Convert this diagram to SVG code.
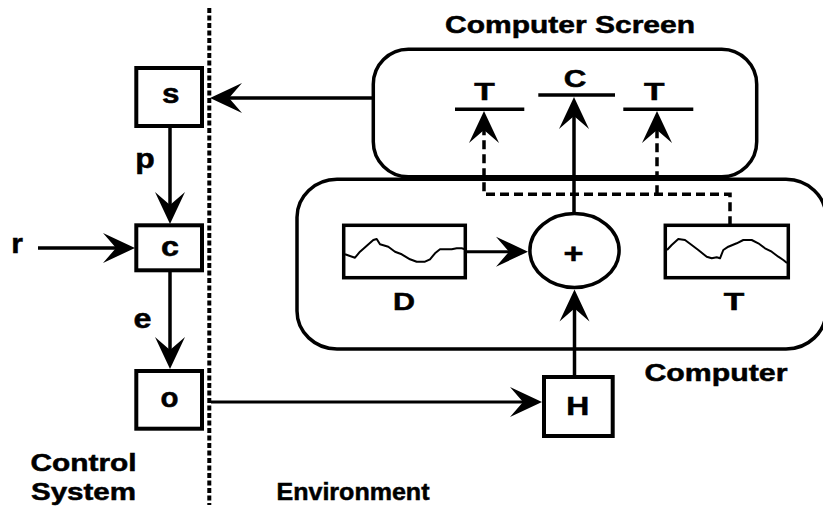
<svg xmlns="http://www.w3.org/2000/svg" width="823" height="508" viewBox="0 0 823 508">
<defs>
<style>
text{font-family:"Liberation Sans",Arial,sans-serif;font-weight:bold;fill:#000;stroke:#000;stroke-width:0.5;}
.lbl{font-size:24px;}
.big{font-size:23px;}
.low{font-size:27px;}
.box{fill:#fff;stroke:#000;stroke-width:4;}
.frame{fill:none;stroke:#000;stroke-width:3.5;}
.bar{stroke:#000;stroke-width:3.5;fill:none;}
.wire{fill:none;stroke:#000;stroke-width:3.5;marker-end:url(#ah);}
.thin{stroke-width:3;}
.dash{fill:none;stroke:#000;stroke-width:3.5;stroke-dasharray:9 5;marker-end:url(#ah);}
.sep{fill:none;stroke:#000;stroke-width:4;stroke-dasharray:5 2.5;}
.wave{fill:none;stroke:#000;stroke-width:2;stroke-linejoin:round;}
</style>
<marker id="ah" markerUnits="userSpaceOnUse" viewBox="-34 -17 35 34" refX="-16" refY="0" markerWidth="35" markerHeight="34" orient="auto">
<path d="M0,0 L-32,-15 L-19,0 L-32,15 Z" fill="#000"/>
</marker>
</defs>
<rect width="823" height="508" fill="#fff"/>

<line class="sep" x1="209.3" y1="8" x2="209.3" y2="505"/>

<g id="computer">
<rect class="frame" x="297" y="179.3" width="529" height="169.7" rx="40" ry="38"/>
<text class="lbl" x="644.5" y="381" textLength="143" lengthAdjust="spacingAndGlyphs">Computer</text>
</g>

<g id="screen">
<rect class="frame" x="373.3" y="49.3" width="383.4" height="127.4" rx="35" ry="35"/>
<text class="lbl" x="445" y="33" textLength="250" lengthAdjust="spacingAndGlyphs">Computer Screen</text>
<line class="bar" x1="455" y1="109.3" x2="524.3" y2="109.3"/>
<line class="bar" x1="538.3" y1="95" x2="615" y2="95"/>
<line class="bar" x1="623.3" y1="109.3" x2="693.3" y2="109.3"/>
<text class="lbl" x="484.5" y="100" text-anchor="middle" textLength="20.5" lengthAdjust="spacingAndGlyphs">T</text>
<text class="lbl" x="575" y="86.7" text-anchor="middle" textLength="22.6" lengthAdjust="spacingAndGlyphs">C</text>
<text class="lbl" x="654.2" y="100" text-anchor="middle" textLength="20.5" lengthAdjust="spacingAndGlyphs">T</text>
</g>

<g id="s">
<rect class="box" x="136.3" y="68" width="65.7" height="58"/>
<text class="low" x="170.8" y="103.3" text-anchor="middle" textLength="17.5" lengthAdjust="spacingAndGlyphs">s</text>
</g>
<g id="c">
<rect class="box" x="136.3" y="225.3" width="65.7" height="45"/>
<text class="low" x="170" y="256" text-anchor="middle" textLength="18" lengthAdjust="spacingAndGlyphs">c</text>
</g>
<g id="o">
<rect class="box" x="136.3" y="371" width="65.7" height="57.7"/>
<text class="low" x="169.5" y="407.3" text-anchor="middle" textLength="18" lengthAdjust="spacingAndGlyphs">o</text>
</g>
<g id="H">
<rect class="box" x="544" y="377" width="68.7" height="59"/>
<text class="lbl" x="577.7" y="415" text-anchor="middle" style="font-size:25px" textLength="23" lengthAdjust="spacingAndGlyphs">H</text>
</g>

<g id="sum">
<ellipse class="frame" cx="574.5" cy="250.5" rx="44.6" ry="37"/>
<text x="573.5" y="263.3" text-anchor="middle" style="font-size:28px" textLength="20" lengthAdjust="spacingAndGlyphs">+</text>
</g>

<g id="D">
<rect class="box" style="stroke-width:3.5" x="343.7" y="225.3" width="121.6" height="52.4"/>
<polyline class="wave" points="345,254.3 355,257.7 360,251.7 373.3,240 376.7,239 380,244.3 388.3,246.7 395,251.7 401.7,254.3 410,259.3 416.7,261.7 425,261.7 430,259.3 435,253.3 440,249.3 446.7,249.3 451.7,249.3 456.7,248.3 461.7,248.3 465,249.3"/>
<text class="lbl" x="404" y="310" text-anchor="middle" textLength="22" lengthAdjust="spacingAndGlyphs">D</text>
</g>

<g id="T">
<rect class="box" style="stroke-width:3.5" x="665.3" y="225.3" width="123" height="52.4"/>
<polyline class="wave" points="667,250 671.7,245 678.3,239 685,240 691.7,245 698.3,250 706.7,256.7 711.7,258.3 716.7,257.3 720,258.3 723.3,250 728.3,246.7 736.7,243.3 743.3,240 751.7,240 758.3,243.3 765,248.3 771.7,251.7 778.3,256.7 783.3,260 787,263"/>
<text class="lbl" x="733.9" y="310" text-anchor="middle" textLength="20.5" lengthAdjust="spacingAndGlyphs">T</text>
</g>

<g id="connectors">
<path class="wire" d="M373.3,98 H226"/>
<path class="wire" d="M170,127 V208"/>
<path class="wire" d="M38,248 H119"/>
<path class="wire" d="M170,272 V353"/>
<path class="wire thin" d="M211,402 H526"/>
<path class="wire" d="M574.5,377 V305.5"/>
<path class="wire thin" d="M466,251.7 H512"/>
<path class="wire" d="M574,213.5 V113"/>
<path class="dash" d="M730,225.3 V194.3 H484 V127"/>
<path class="dash" d="M657,194.3 V127"/>
</g>

<g id="labels">
<text class="low" x="145" y="168" text-anchor="middle" textLength="19.5" lengthAdjust="spacingAndGlyphs">p</text>
<text class="low" x="17.1" y="253" text-anchor="middle" textLength="11.7" lengthAdjust="spacingAndGlyphs">r</text>
<text class="low" x="142.5" y="328.3" text-anchor="middle" textLength="18" lengthAdjust="spacingAndGlyphs">e</text>
<text class="big" x="30.5" y="471" textLength="106" lengthAdjust="spacingAndGlyphs">Control</text>
<text class="big" x="31" y="500" textLength="105" lengthAdjust="spacingAndGlyphs">System</text>
<text class="big" x="276.5" y="500" textLength="153" lengthAdjust="spacingAndGlyphs">Environment</text>
</g>
</svg>
